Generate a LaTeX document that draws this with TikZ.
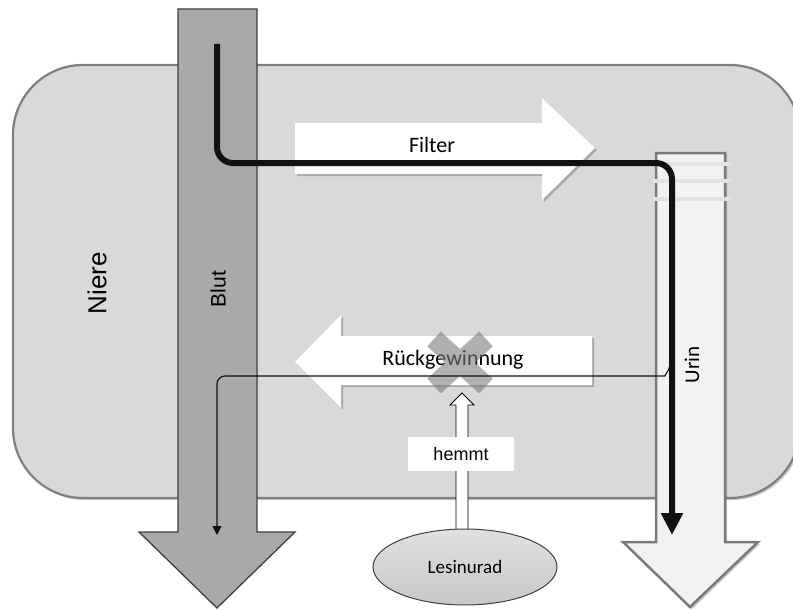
\documentclass[tikz,border=0pt]{standalone}
\usepackage{fontspec}
\setmainfont{Carlito}
\newfontfamily\arialf{Liberation Sans}
\usetikzlibrary{arrows.meta,shadows,shapes.geometric}
\definecolor{kidneyfill}{HTML}{D9D9D9}
\definecolor{kidneyborder}{HTML}{7F7F7F}
\definecolor{blutfill}{HTML}{A9A9A9}
\definecolor{blutborder}{HTML}{3F3F3F}
\definecolor{urinfill}{HTML}{F2F2F2}
\definecolor{urinborder}{HTML}{7A7A7A}
\definecolor{stripecol}{HTML}{E2E2E2}
\definecolor{xcol}{HTML}{7C7C7C}
\definecolor{flowcol}{HTML}{111111}
\begin{document}
\begin{tikzpicture}[x=1pt,y=-1pt,
  softshadow/.style={drop shadow={opacity=0.22,shadow xshift=2pt,shadow yshift=-2pt,fill=black}},
  blockarrow/.style={fill=white,softshadow},
  stripe/.style={draw=stripecol,line width=4.5pt},
  mainflow/.style={draw=flowcol,line width=6pt,rounded corners=16pt,-{Triangle[length=22pt,width=21pt]}},
  backflow/.style={draw=flowcol,line width=1.1pt,rounded corners=8pt,-{Triangle[length=9pt,width=9pt]}},
  bigtext/.style={font=\fontsize{22}{24}\selectfont},
  sidetext/.style={font=\arialf\fontsize{26}{28}\selectfont,rotate=90},
  ]
\useasboundingbox (0,0) rectangle (793,610);
\clip (0,0) rectangle (793,610);

% kidney
\draw[fill=kidneyfill,draw=kidneyborder,line width=2.2pt,rounded corners=70pt,softshadow]
  (13,65) rectangle (800,498);
\node[sidetext] (niere) at (97,283) {Niere};

% blood arrow
\draw[fill=blutfill,draw=blutborder,line width=1.3pt]
  (178,9) -- (257,9) -- (257,532) -- (295,532) -- (217,608) -- (139,532) -- (178,532) -- cycle;
\node[font=\arialf\fontsize{21}{23}\selectfont,rotate=90] (blut) at (218,289) {Blut};

% urine arrow
\draw[fill=urinfill,draw=urinborder,line width=2.5pt,softshadow]
  (656,153) -- (725,153) -- (725,542) -- (758,542) -- (690,607) -- (623,542) -- (656,542) -- cycle;
\foreach \yy in {164,181,199} \draw[stripe] (653,\yy) -- (731,\yy);
\node[font=\fontsize{21}{23}\selectfont,rotate=90] (urin) at (692,365) {Urin};

% filter arrow
\fill[blockarrow] (295,123) -- (542,123) -- (542,98) -- (595,148) -- (542,200) -- (542,174) -- (295,174) -- cycle;
\node[bigtext] (filter) at (432,145) {Filter};

% reabsorption arrow
\fill[blockarrow] (592,336) -- (341,336) -- (341,315) -- (295,362) -- (341,408) -- (341,385) -- (592,385) -- cycle;
\node[bigtext] (rueck) at (453,360) {Rückgewinnung};

% cross
\begin{scope}[transparency group,opacity=0.6]
  \draw[xcol,line width=20pt] (434,339) -- (486,386);
  \draw[xcol,line width=20pt] (486,339) -- (434,386);
\end{scope}

% inhibition arrow
\draw[fill=white,draw=black,line width=0.8pt]
  (456,530) -- (456,405) -- (450,405) -- (462,393) -- (474,405) -- (468,405) -- (468,530) -- cycle;
\node[fill=white,minimum width=106,minimum height=34,inner sep=0pt,font=\arialf\fontsize{18}{20}\selectfont] (hemmt) at (461,454) {hemmt};

% Lesinurad
\node[ellipse,draw=blutborder,line width=1pt,top color=white!88!black,bottom color=white!78!black,
      minimum width=184,minimum height=76,inner sep=0pt,font=\fontsize{19}{21}\selectfont] (les) at (465,567) {Lesinurad};

% main flow (blood -> filter -> urine)
\coordinate (fstart) at (217,44);
\coordinate (fc1) at (217,163);
\coordinate (fc2) at (672,163);
\coordinate (fend) at (672,535);
\draw[mainflow] (fstart) -- (fc1) -- (fc2) -- (fend);

% back flow (urine -> blood)
\coordinate (bstart) at (670,365);
\coordinate (bc1) at (657,376);
\coordinate (bc2) at (217,376);
\coordinate (bend) at (217,535);
\draw[backflow] (bstart) .. controls (668,373) and (664,376) .. (bc1) -- (bc2) -- (bend);
\end{tikzpicture}
\end{document}
